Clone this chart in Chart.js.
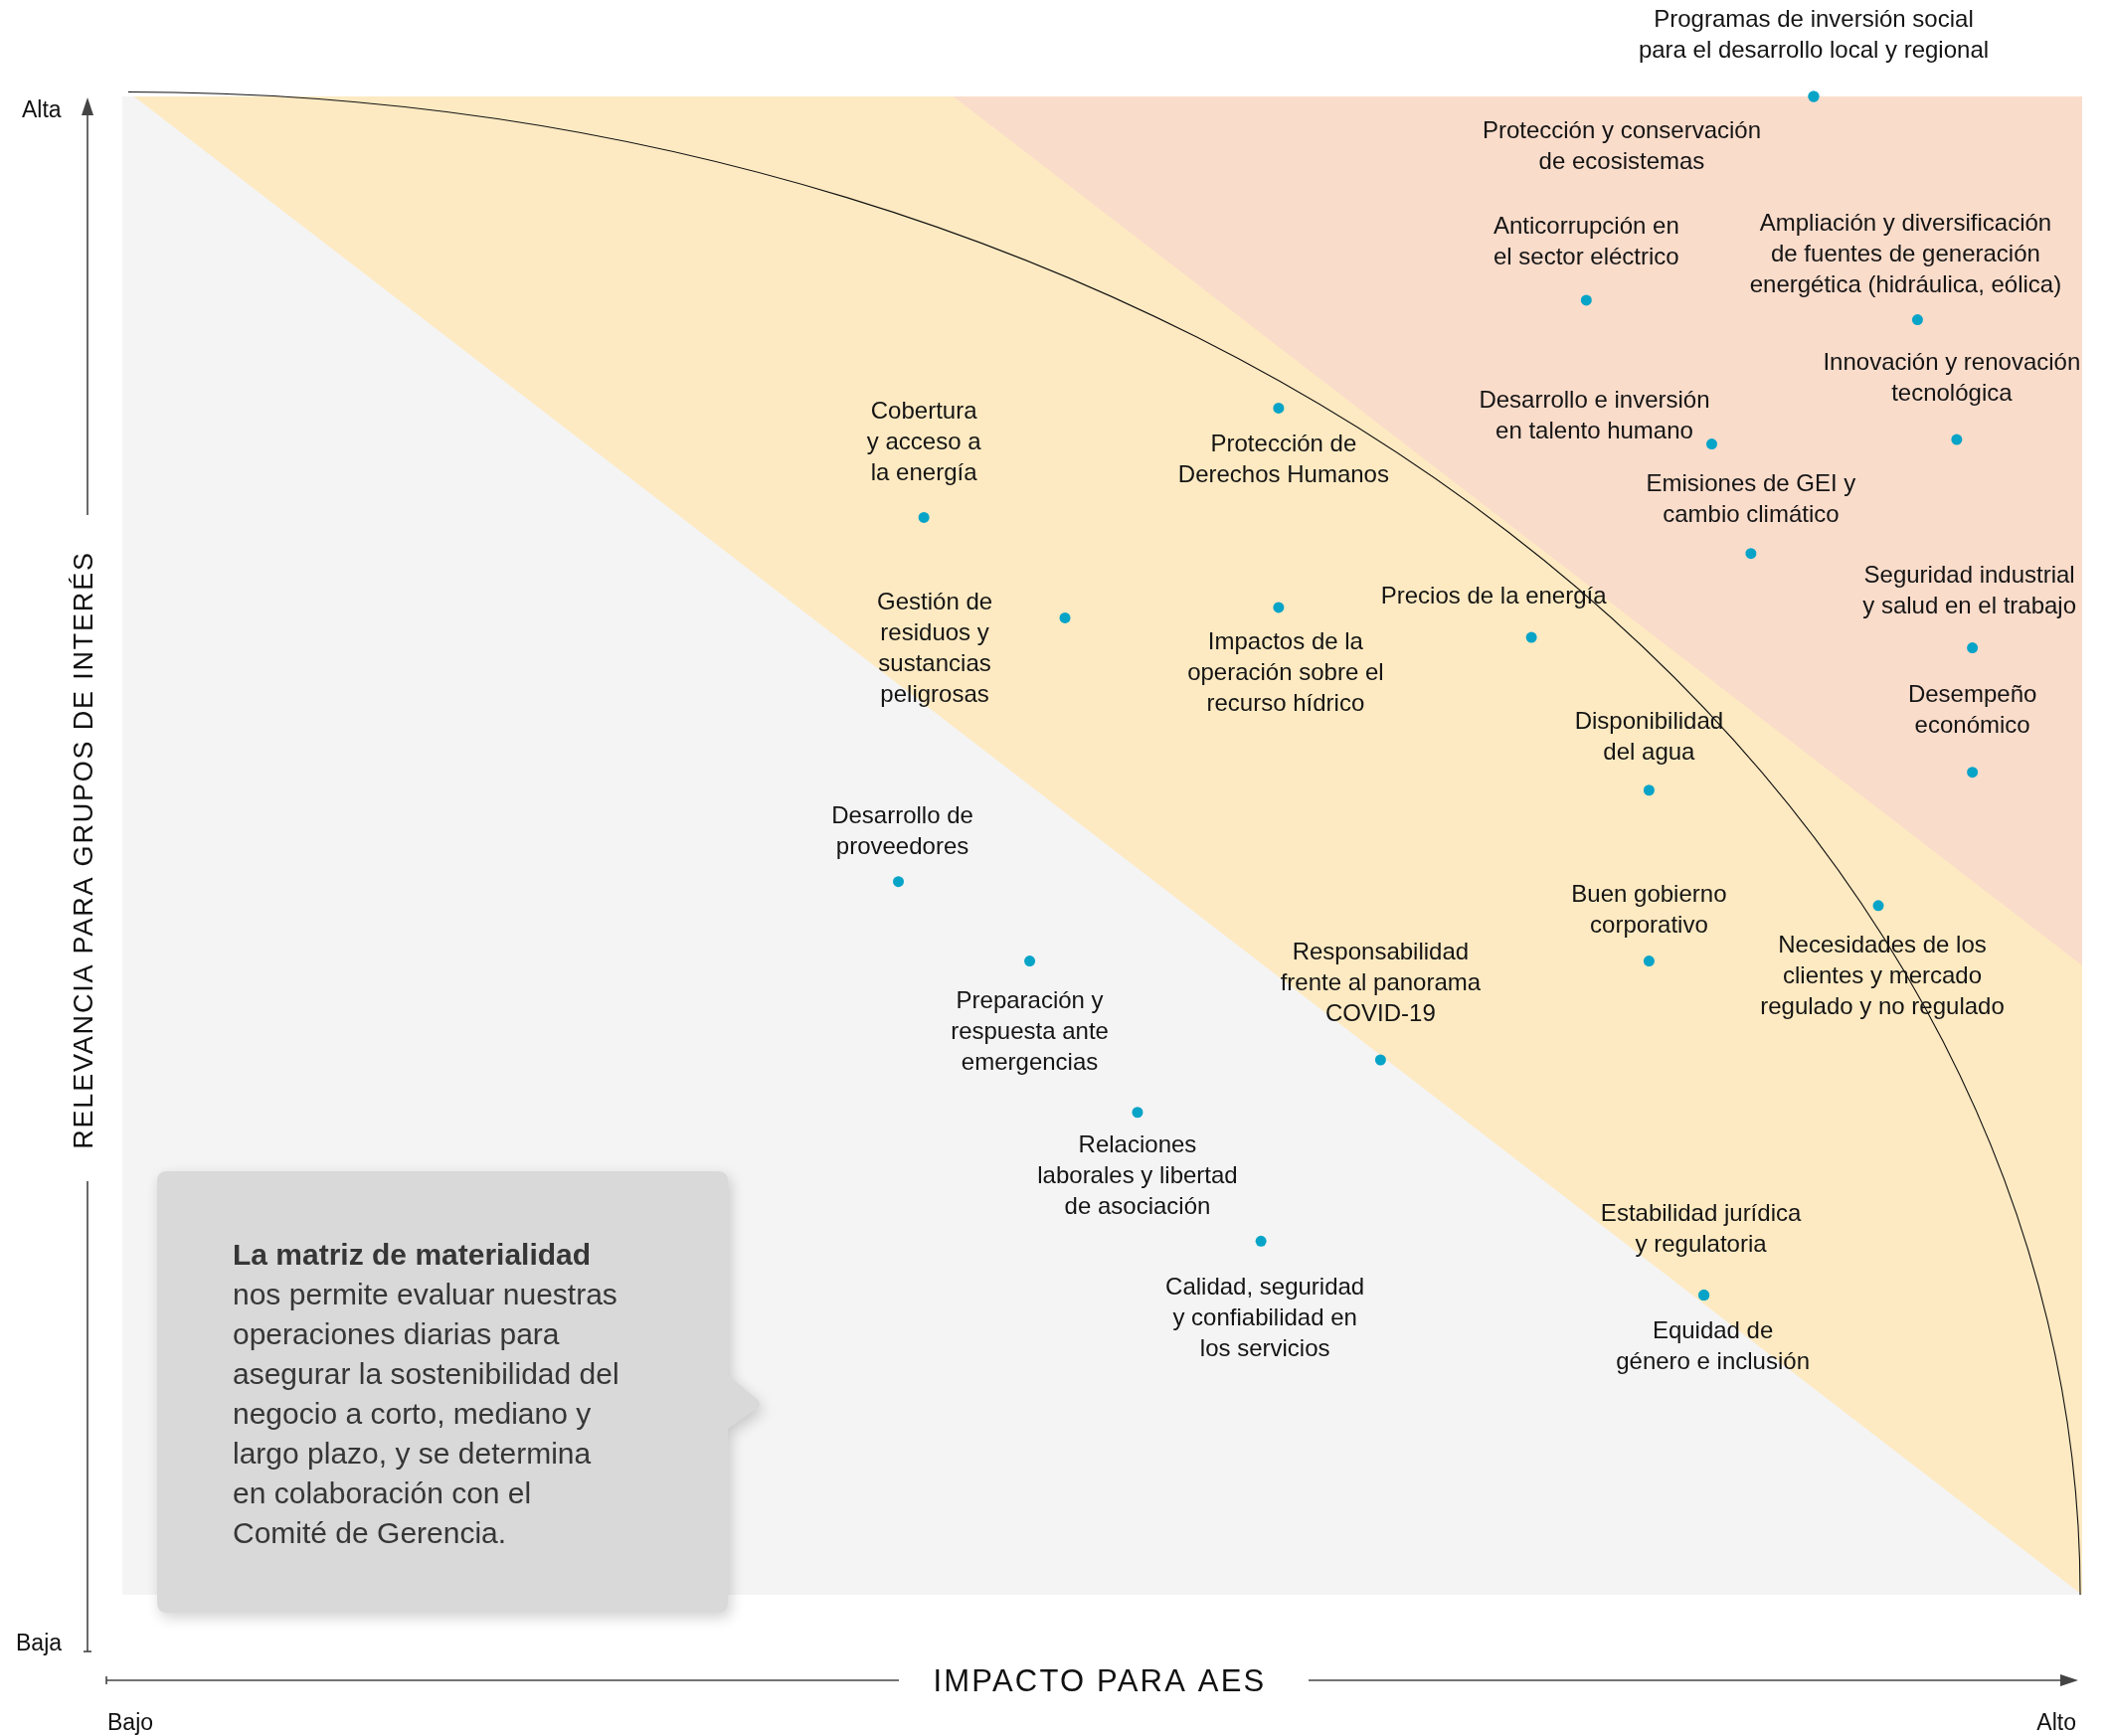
<!DOCTYPE html>
<html>
<head>
<meta charset="utf-8">
<script src="https://cdn.jsdelivr.net/npm/chart.js@4.4.1/dist/chart.umd.min.js"></script>
<style>
  html, body { margin: 0; padding: 0; background: #ffffff; }
  #wrap { width: 2121px; height: 1746px; position: relative; }
</style>
</head>
<body>
<div id="wrap"><canvas id="c" width="2121" height="1746"></canvas></div>
<script>
// ---------- DATA ----------
const temas = [
  ["Programas de inversión social", "para el desarrollo local y regional"],
  ["Protección y conservación", "de ecosistemas"],
  ["Anticorrupción en", "el sector eléctrico"],
  ["Ampliación y diversificación", "de fuentes de generación", "energética (hidráulica, eólica)"],
  ["Protección de", "Derechos Humanos"],
  ["Desarrollo e inversión", "en talento humano"],
  ["Innovación y renovación", "tecnológica"],
  ["Cobertura", "y acceso a", "la energía"],
  ["Emisiones de GEI y", "cambio climático"],
  ["Gestión de", "residuos y", "sustancias", "peligrosas"],
  ["Impactos de la", "operación sobre el", "recurso hídrico"],
  ["Precios de la energía"],
  ["Seguridad industrial", "y salud en el trabajo"],
  ["Desempeño", "económico"],
  ["Disponibilidad", "del agua"],
  ["Desarrollo de", "proveedores"],
  ["Necesidades de los", "clientes y mercado", "regulado y no regulado"],
  ["Preparación y", "respuesta ante", "emergencias"],
  ["Buen gobierno", "corporativo"],
  ["Responsabilidad", "frente al panorama", "COVID-19"],
  ["Relaciones", "laborales y libertad", "de asociación"],
  ["Calidad, seguridad", "y confiabilidad en", "los servicios"],
  ["Estabilidad jurídica", "y regulatoria"],
  ["Equidad de", "género e inclusión"]
];
// Impacto para AES (0 = Bajo, 100 = Alto)
const impacto = [86.3, 86.3, 74.7, 91.6, 59.0, 81.1, 93.6, 40.9, 83.1, 48.1, 59.0, 71.9,
                 94.4, 94.4, 77.9, 39.6, 89.6, 46.3, 77.9, 64.2, 51.8, 58.1, 80.7, 80.7];
// Relevancia para grupos de interés (0 = Baja, 100 = Alta)
const relevancia = [100.0, 100.0, 86.4, 85.1, 79.2, 76.8, 77.1, 71.9, 69.5, 65.2, 65.9, 63.9,
                    63.2, 54.9, 53.7, 47.6, 46.0, 42.3, 42.3, 35.7, 32.2, 23.6, 20.0, 20.0];

const xTitle = "IMPACTO PARA AES";
const yTitle = "RELEVANCIA PARA GRUPOS DE INTERÉS";
const xTickLabels = ["Bajo", "Alto"];
const yTickLabels = ["Baja", "Alta"];
const boxBold = "La matriz de materialidad";
const boxLines = ["nos permite evaluar nuestras", "operaciones diarias para",
  "asegurar la sostenibilidad del", "negocio a corto, mediano y",
  "largo plazo, y se determina", "en colaboración con el", "Comité de Gerencia."];

// ---------- LAYOUT (label offsets from dot, px) ----------
const labelOffsets = [
  [0,-77],[-193,35],[0,-74],[-12,-96],[5,37],[-118,-43],[-5,-77],[0,-106],
  [0,-69],[-131,-15],[7,35],[-38,-41],[-3,-72],[0,-77],[0,-68],[4,-65],
  [4,41],[0,41],[0,-66],[0,-108],[0,34],[4,47],[-3,-81],[9,37]
];

const FONT = '"Liberation Sans", Arial, sans-serif';
const COL_GREY = '#f4f4f4', COL_YEL = '#feeac2', COL_PINK = '#fadccb', COL_DOT = '#07a4c8';

const bgPlugin = {
  id: 'bg',
  beforeDatasetsDraw(chart) {
    const {ctx, chartArea: a, scales: {x, y}} = chart;
    ctx.save();
    ctx.fillStyle = COL_GREY;
    ctx.fillRect(a.left, a.top, a.right - a.left, a.bottom - a.top);
    // yellow band
    ctx.fillStyle = COL_YEL;
    ctx.beginPath();
    ctx.moveTo(x.getPixelForValue(0.6), y.getPixelForValue(100));
    ctx.lineTo(x.getPixelForValue(100), y.getPixelForValue(100));
    ctx.lineTo(x.getPixelForValue(100), y.getPixelForValue(0));
    ctx.closePath(); ctx.fill();
    // pink band
    ctx.fillStyle = COL_PINK;
    ctx.beginPath();
    ctx.moveTo(x.getPixelForValue(42.4), y.getPixelForValue(100));
    ctx.lineTo(x.getPixelForValue(100), y.getPixelForValue(100));
    ctx.lineTo(x.getPixelForValue(100), y.getPixelForValue(42.0));
    ctx.closePath(); ctx.fill();
    // ellipse curve
    const cx = x.getPixelForValue(0.3), cy = y.getPixelForValue(0);
    const rx = x.getPixelForValue(99.9) - cx, ry = cy - y.getPixelForValue(100.3);
    ctx.strokeStyle = '#111'; ctx.lineWidth = 1.1;
    ctx.beginPath();
    ctx.ellipse(cx, cy, rx, ry, 0, -Math.PI / 2, 0);
    ctx.stroke();

    // text box
    const bx = 158, by = 1178, bw = 574, bh = 444, r = 10;
    ctx.save();
    ctx.shadowColor = 'rgba(0,0,0,0.18)'; ctx.shadowBlur = 14; ctx.shadowOffsetX = 3; ctx.shadowOffsetY = 5;
    ctx.fillStyle = '#d9d9d9';
    ctx.beginPath();
    ctx.moveTo(bx + r, by);
    ctx.lineTo(bx + bw - r, by);
    ctx.quadraticCurveTo(bx + bw, by, bx + bw, by + r);
    ctx.lineTo(bx + bw, 1383);
    ctx.lineTo(bx + bw + 30, 1408);
    ctx.quadraticCurveTo(bx + bw + 34, 1412, bx + bw + 30, 1416);
    ctx.lineTo(bx + bw, 1437);
    ctx.lineTo(bx + bw, by + bh - r);
    ctx.quadraticCurveTo(bx + bw, by + bh, bx + bw - r, by + bh);
    ctx.lineTo(bx + r, by + bh);
    ctx.quadraticCurveTo(bx, by + bh, bx, by + bh - r);
    ctx.lineTo(bx, by + r);
    ctx.quadraticCurveTo(bx, by, bx + r, by);
    ctx.closePath(); ctx.fill();
    ctx.restore();
    ctx.fillStyle = '#363636';
    ctx.textAlign = 'left'; ctx.textBaseline = 'middle';
    ctx.font = 'bold 30px ' + FONT;
    ctx.fillText(boxBold, 234, 1264);
    ctx.font = '30px ' + FONT;
    boxLines.forEach((t, i) => ctx.fillText(t, 234, 1264 + 40 * (i + 1)));
    ctx.restore();
  },
  afterDatasetsDraw(chart) {
    const {ctx} = chart;
    const meta = chart.getDatasetMeta(0);
    ctx.save();
    ctx.fillStyle = '#141414';
    ctx.font = '24px ' + FONT;
    ctx.textAlign = 'center'; ctx.textBaseline = 'middle';
    temas.forEach((lines, i) => {
      const p = meta.data[i];
      const [dx, dy] = labelOffsets[i];
      lines.forEach((t, j) => ctx.fillText(t, p.x + dx, p.y + dy + j * 31));
    });
    ctx.restore();
  },
  afterDraw(chart) {
    const {ctx} = chart;
    ctx.save();
    ctx.strokeStyle = '#444'; ctx.fillStyle = '#444'; ctx.lineWidth = 1.6;
    // Y axis
    const ax = 88;
    ctx.beginPath(); ctx.moveTo(ax, 112); ctx.lineTo(ax, 518); ctx.stroke();
    ctx.beginPath(); ctx.moveTo(ax, 1188); ctx.lineTo(ax, 1661); ctx.stroke();
    ctx.beginPath(); ctx.moveTo(ax - 4, 1661); ctx.lineTo(ax + 4, 1661); ctx.stroke();
    ctx.beginPath(); ctx.moveTo(ax, 98); ctx.lineTo(ax - 6, 116); ctx.lineTo(ax + 6, 116); ctx.closePath(); ctx.fill();
    // X axis
    const ay = 1690;
    ctx.beginPath(); ctx.moveTo(107, ay); ctx.lineTo(904, ay); ctx.stroke();
    ctx.beginPath(); ctx.moveTo(1316, ay); ctx.lineTo(2072, ay); ctx.stroke();
    ctx.beginPath(); ctx.moveTo(107, ay - 4); ctx.lineTo(107, ay + 4); ctx.stroke();
    ctx.beginPath(); ctx.moveTo(2090, ay); ctx.lineTo(2072, ay - 6); ctx.lineTo(2072, ay + 6); ctx.closePath(); ctx.fill();

    ctx.fillStyle = '#111';
    ctx.textBaseline = 'middle';
    ctx.font = '23px ' + FONT;
    ctx.textAlign = 'left';
    ctx.fillText(yTickLabels[1], 22, 112);
    ctx.fillText(yTickLabels[0], 16, 1654);
    ctx.fillText(xTickLabels[0], 108, 1734);
    ctx.textAlign = 'right';
    ctx.fillText(xTickLabels[1], 2088, 1734);

    // X title
    ctx.textAlign = 'center';
    ctx.font = '31px ' + FONT;
    ctx.letterSpacing = '2.2px';
    ctx.fillText(xTitle, 1106, 1692);
    // Y title
    ctx.save();
    ctx.translate(86, 855);
    ctx.rotate(-Math.PI / 2);
    ctx.font = '27px ' + FONT;
    ctx.letterSpacing = '1.8px';
    ctx.fillText(yTitle, 0, 0);
    ctx.restore();
    ctx.restore();
  }
};

new Chart(document.getElementById('c'), {
  type: 'scatter',
  data: {
    datasets: [{
      data: impacto.map((v, i) => ({x: v, y: relevancia[i]})),
      backgroundColor: COL_DOT,
      borderWidth: 0,
      pointRadius: 5.5,
      pointHoverRadius: 5.5,
      clip: false
    }]
  },
  options: {
    responsive: false,
    animation: false,
    devicePixelRatio: 1,
    layout: { padding: { left: 123, top: 97, right: 27, bottom: 142 } },
    scales: {
      x: { type: 'linear', min: 0, max: 100, display: false },
      y: { type: 'linear', min: 0, max: 100, display: false }
    },
    plugins: { legend: { display: false }, tooltip: { enabled: false } }
  },
  plugins: [bgPlugin]
});
</script>
</body>
</html>
